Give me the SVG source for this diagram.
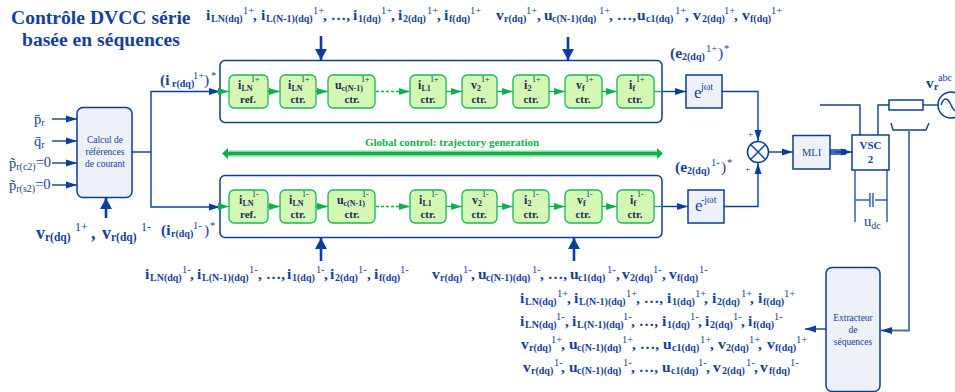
<svg xmlns="http://www.w3.org/2000/svg" width="955" height="392" viewBox="0 0 955 392">
<defs>
<marker id="a" markerWidth="12" markerHeight="8" refX="11" refY="4" orient="auto" markerUnits="userSpaceOnUse"><path d="M0 0.500L11 4L0 7.500z" fill="#0b3d9c"/></marker>
<marker id="g" markerWidth="12" markerHeight="8" refX="11" refY="4" orient="auto" markerUnits="userSpaceOnUse"><path d="M0 0.500L11 4L0 7.500z" fill="#0db14b"/></marker>
<marker id="t" markerWidth="12" markerHeight="14" refX="11" refY="6" orient="auto" markerUnits="userSpaceOnUse"><path d="M0 0L11 6L0 12z" fill="#0b3d9c"/></marker>
</defs>
<style>
text{font-family:"Liberation Serif",serif;fill:#1440a0}
.l{fill:none;stroke:#0b3d9c;stroke-width:1.4}
.la{fill:none;stroke:#0b3d9c;stroke-width:1.4;marker-end:url(#a)}
.th{fill:none;stroke:#0b3d9c;stroke-width:2.6;marker-end:url(#t)}
.gl{fill:none;stroke:#0db14b;stroke-width:1.3;marker-end:url(#g)}
.gd{fill:none;stroke:#0db14b;stroke-width:1.3;stroke-dasharray:3 2;marker-end:url(#g)}
.box{fill:#eef1f7;stroke:#0b3d9c;stroke-width:1.5}
.out{fill:#fff;stroke:#0b3d9c;stroke-width:1.5}
.gb{fill:#d4f7b4;stroke:#16b95a;stroke-width:1.3}
.n{font-size:15.500px;font-weight:bold}
.n .s{font-size:10px}
.n .u{font-size:10.500px;font-weight:normal}
.big{font-size:18px;font-weight:bold}
.big .s{font-size:11.500px}
.big .u{font-size:12px;font-weight:normal}
.c{font-size:9.500px;text-anchor:middle}
.title{font-size:19.600px;font-weight:bold}
.gt{font-size:11px;font-weight:bold;text-anchor:middle;fill:#222a55}
.gs{font-size:12px;font-weight:bold;fill:#222a55}
.gs .s{font-size:8px}
.gs .u{font-size:8px;font-weight:normal}
.nm{font-size:14.500px}
.nm .s{font-size:10px}
</style>
<g id="title">
<text class="title" x="11" y="24">Contrôle DVCC série</text>
<text class="title" x="22" y="46">basée en séquences</text>
</g>
<g id="connectors">
<path class="la" d="M52 119H77"/><path class="la" d="M52 141H77"/><path class="la" d="M52 163H77"/><path class="la" d="M52 185H77"/>
<path class="th" d="M106 218V198"/>
<path class="l" d="M132 152H151"/>
<path class="la" d="M151 152V91.500H220"/>
<path class="la" d="M151 152V207H220"/>
<path class="th" d="M321 36V60"/><path class="th" d="M568 37V60"/>
<path class="th" d="M321 261V238"/><path class="th" d="M574 261V238"/>
<path class="la" d="M662 91.500H686"/><path class="la" d="M662 206.500H688"/>
<path class="la" d="M722 91.500H758V141"/>
<path class="la" d="M724 206.500H758V163"/>
<path class="la" d="M769 152H793"/>
<path class="l" d="M830 150H846M830 152H846M830 154H846"/>
<path class="la" d="M835 152H852"/>
<path class="l" d="M820 105H860V135"/>
<path class="l" d="M878 135V105H889"/>
<path class="l" d="M923 105H938"/>
<path class="l" d="M891 123L893 130H926L929 123"/>
<path fill="none" stroke="#4a6fbe" stroke-width="1.8" d="M909 130V330.500H890"/>
<path class="la" d="M892 330.500H881"/>
<path class="la" d="M826 329H805"/>
<path fill="none" stroke="#3560b5" stroke-width="1.5" d="M855 170V222M887 170V222M855 200H870M875 200H887M870 193V207M873 193V207"/>
<path fill="none" stroke="#0db14b" stroke-width="4" d="M227 153.500H658"/>
<path fill="none" stroke="#7fd88f" stroke-width="1" d="M227 151H658M227 156H658"/>
<path d="M222 153.500L228 148V159zM663 153.500L657 148V159z" fill="#0db14b"/>
</g>
<g id="bloc-plus">
<rect class="out" x="220" y="60.500" width="442" height="62" rx="5"/>
<path class="gl" d="M220 91.500H229"/>
<path class="gl" d="M268 91.500H280"/><path class="gl" d="M316 91.500H328"/><path class="gd" d="M376 91.500H410"/><path class="gl" d="M446 91.500H462"/><path class="gl" d="M497 91.500H513"/><path class="gl" d="M549 91.500H565"/><path class="gl" d="M602 91.500H617"/>
<path d="M654 91.500H662" stroke="#0db14b" stroke-width="1.3"/>
<rect class="gb" x="229" y="75" width="39" height="33" rx="5"/>
<rect class="gb" x="280" y="75" width="36" height="33" rx="5"/>
<rect class="gb" x="328" y="75" width="47" height="33" rx="5"/>
<rect class="gb" x="410" y="75" width="36" height="33" rx="5"/>
<rect class="gb" x="462" y="75" width="35" height="33" rx="5"/>
<rect class="gb" x="513" y="75" width="36" height="33" rx="5"/>
<rect class="gb" x="565" y="75" width="37" height="33" rx="5"/>
<rect class="gb" x="617" y="75" width="37" height="33" rx="5"/>
<text class="gs" y="89"><tspan x="238">i</tspan><tspan class="s" x="241.500" y="91">LN</tspan><tspan class="u" x="251" y="82">1+</tspan></text>
<text class="gs" y="89"><tspan x="288">i</tspan><tspan class="s" x="291.500" y="91">LN</tspan><tspan class="u" x="301" y="82">1+</tspan></text>
<text class="gs" y="89"><tspan x="335">u</tspan><tspan class="s" x="341.500" y="91">c(N-1)</tspan><tspan class="u" x="361" y="82">1+</tspan></text>
<text class="gs" y="89"><tspan x="418">i</tspan><tspan class="s" x="421.500" y="91">L1</tspan><tspan class="u" x="430" y="82">1+</tspan></text>
<text class="gs" y="89"><tspan x="471">v</tspan><tspan class="s" x="477" y="91">2</tspan><tspan class="u" x="481" y="82">1+</tspan></text>
<text class="gs" y="89"><tspan x="524">i</tspan><tspan class="s" x="527.500" y="91">2</tspan><tspan class="u" x="532" y="82">1+</tspan></text>
<text class="gs" y="89"><tspan x="576">v</tspan><tspan class="s" x="582" y="91">f</tspan><tspan class="u" x="585" y="82">1+</tspan></text>
<text class="gs" y="89"><tspan x="629">i</tspan><tspan class="s" x="632.500" y="91">f</tspan><tspan class="u" x="636" y="82">1+</tspan></text>
<text class="gt" x="248" y="103">ref.</text><text class="gt" x="298" y="103">ctr.</text><text class="gt" x="352" y="103">ctr.</text><text class="gt" x="428" y="103">ctr.</text><text class="gt" x="479" y="103">ctr.</text><text class="gt" x="531" y="103">ctr.</text><text class="gt" x="583" y="103">ctr.</text><text class="gt" x="635" y="103">ctr.</text>
</g>
<g id="bloc-moins">
<rect class="out" x="220" y="175.500" width="442" height="62" rx="5"/>
<path class="gl" d="M220 206.500H229"/>
<path class="gl" d="M268 206.500H280"/><path class="gl" d="M316 206.500H328"/><path class="gd" d="M376 206.500H410"/><path class="gl" d="M446 206.500H462"/><path class="gl" d="M497 206.500H513"/><path class="gl" d="M549 206.500H565"/><path class="gl" d="M602 206.500H617"/>
<path d="M654 206.500H662" stroke="#0db14b" stroke-width="1.3"/>
<rect class="gb" x="229" y="190" width="39" height="33" rx="5"/>
<rect class="gb" x="280" y="190" width="36" height="33" rx="5"/>
<rect class="gb" x="328" y="190" width="47" height="33" rx="5"/>
<rect class="gb" x="410" y="190" width="36" height="33" rx="5"/>
<rect class="gb" x="462" y="190" width="35" height="33" rx="5"/>
<rect class="gb" x="513" y="190" width="36" height="33" rx="5"/>
<rect class="gb" x="565" y="190" width="37" height="33" rx="5"/>
<rect class="gb" x="617" y="190" width="37" height="33" rx="5"/>
<text class="gs" y="204"><tspan x="239">i</tspan><tspan class="s" x="242.500" y="206">LN</tspan><tspan class="u" x="252" y="197">1-</tspan></text>
<text class="gs" y="204"><tspan x="289">i</tspan><tspan class="s" x="292.500" y="206">LN</tspan><tspan class="u" x="302" y="197">1-</tspan></text>
<text class="gs" y="204"><tspan x="337">u</tspan><tspan class="s" x="343.500" y="206">c(N-1)</tspan><tspan class="u" x="362" y="197">1-</tspan></text>
<text class="gs" y="204"><tspan x="419">i</tspan><tspan class="s" x="422.500" y="206">L1</tspan><tspan class="u" x="431" y="197">1-</tspan></text>
<text class="gs" y="204"><tspan x="472">v</tspan><tspan class="s" x="478" y="206">2</tspan><tspan class="u" x="482" y="197">1-</tspan></text>
<text class="gs" y="204"><tspan x="524">i</tspan><tspan class="s" x="527.500" y="206">2</tspan><tspan class="u" x="532" y="197">1-</tspan></text>
<text class="gs" y="204"><tspan x="577">v</tspan><tspan class="s" x="583" y="206">f</tspan><tspan class="u" x="586" y="197">1-</tspan></text>
<text class="gs" y="204"><tspan x="630">i</tspan><tspan class="s" x="633.500" y="206">f</tspan><tspan class="u" x="637" y="197">1-</tspan></text>
<text class="gt" x="248" y="218">ref.</text><text class="gt" x="298" y="218">ctr.</text><text class="gt" x="352" y="218">ctr.</text><text class="gt" x="428" y="218">ctr.</text><text class="gt" x="479" y="218">ctr.</text><text class="gt" x="531" y="218">ctr.</text><text class="gt" x="583" y="218">ctr.</text><text class="gt" x="635" y="218">ctr.</text>
</g>
<g id="calcul">
<rect class="box" x="77" y="107.500" width="55" height="90" rx="6"/>
<text class="c" x="105" y="143">Calcul de</text><text class="c" x="105" y="155">références</text><text class="c" x="105" y="167">de courant</text>
</g>
<g id="extracteur">
<rect class="box" x="826" y="267.500" width="54" height="124" rx="6"/>
<text class="c" x="853" y="321">Extracteur</text><text class="c" x="853" y="333">de</text><text class="c" x="853" y="345">séquences</text>
</g>
<g id="ejwt-plus">
<rect class="box" x="686" y="75" width="36" height="33"/>
<text font-size="17" x="694" y="98">e</text><text font-size="10" x="701" y="90">jωt</text>
</g>
<g id="ejwt-moins">
<rect class="box" x="688" y="190" width="36" height="33"/>
<text font-size="17" x="695" y="211">e</text><text font-size="10" x="701" y="203">-jωt</text>
</g>
<g id="somme">
<circle class="out" cx="758" cy="152" r="10.500"/>
<path class="l" d="M750.600 144.600L765.400 159.400M765.400 144.600L750.600 159.400"/>
<text font-size="9" x="748" y="137">+</text><text font-size="9" x="745" y="172">+</text>
</g>
<g id="mli">
<rect class="box" x="793" y="135.500" width="37" height="33.500"/>
<text font-size="10.500" text-anchor="middle" x="811.500" y="156">MLI</text>
</g>
<g id="vsc">
<rect class="out" x="852" y="135" width="37" height="35"/>
<text font-size="11" font-weight="bold" text-anchor="middle" x="870.500" y="149">VSC</text>
<text font-size="11" font-weight="bold" text-anchor="middle" x="870.500" y="163">2</text>
</g>
<g id="resistance"><rect class="out" x="889" y="100" width="34" height="10"/></g>
<g id="source">
<circle class="out" cx="951" cy="105" r="13"/>
<path class="l" d="M941 105C944 96 948 98 951 105S958 114 961 105"/>
<text class="big"><tspan x="926" y="88" style="font-size:15px">v</tspan><tspan class="s" x="934" y="90" style="font-size:10px">r</tspan><tspan class="u" x="938" y="81" style="font-size:10px">abc</tspan></text>
</g>
<g id="udc"><text class="nm" x="864" y="226">u<tspan class="s" y="229">dc</tspan></text></g>
<g id="entrees">
<text class="nm" x="34" y="124">p̄<tspan class="s" y="126">r</tspan></text>
<text class="nm" x="34" y="146">q̄<tspan class="s" y="148">r</tspan></text>
<text class="nm" x="9" y="168">p̃<tspan class="s" y="170">r(c2)</tspan><tspan y="167">=0</tspan></text>
<text class="nm" x="9" y="190">p̃<tspan class="s" y="192">r(s2)</tspan><tspan y="189">=0</tspan></text>
</g>
<g id="g-global"><text x="452" y="146" font-size="11" font-weight="bold" text-anchor="middle" style="fill:#0db14b">Global control: trajectory generation</text></g>
<g id="labels">
<text class="n"><tspan x="206" y="20">i</tspan><tspan class="s" x="211" y="22">LN(dq)</tspan><tspan class="u" x="243" y="14">1+</tspan><tspan x="253" y="20">,</tspan><tspan x="261" y="20">i</tspan><tspan class="s" x="266" y="22">L(N-1)(dq)</tspan><tspan class="u" x="313" y="14">1+</tspan><tspan x="323" y="20">, …,</tspan><tspan x="353" y="20">i</tspan><tspan class="s" x="358" y="22">1(dq)</tspan><tspan class="u" x="381" y="14">1+</tspan><tspan x="391" y="20">,</tspan><tspan x="398" y="20">i</tspan><tspan class="s" x="403" y="22">2(dq)</tspan><tspan class="u" x="427" y="14">1+</tspan><tspan x="437" y="20">,</tspan><tspan x="444" y="20">i</tspan><tspan class="s" x="449" y="22">f(dq)</tspan><tspan class="u" x="470" y="14">1+</tspan></text>
<text class="n"><tspan x="496" y="20">v</tspan><tspan class="s" x="504" y="22">r(dq)</tspan><tspan class="u" x="526" y="14">1+</tspan><tspan x="537" y="20">,</tspan><tspan x="544" y="20">u</tspan><tspan class="s" x="552" y="22">c(N-1)(dq)</tspan><tspan class="u" x="599" y="14">1+</tspan><tspan x="609" y="20">, …,</tspan><tspan x="637" y="20">u</tspan><tspan class="s" x="646" y="22">c1(dq)</tspan><tspan class="u" x="675" y="14">1+</tspan><tspan x="685" y="20">,</tspan><tspan x="693" y="20">v</tspan><tspan class="s" x="702" y="22">2(dq)</tspan><tspan class="u" x="724" y="14">1+</tspan><tspan x="734" y="20">,</tspan><tspan x="742" y="20">v</tspan><tspan class="s" x="750" y="22">f(dq)</tspan><tspan class="u" x="771" y="14">1+</tspan></text>
<text class="n"><tspan x="145" y="279">i</tspan><tspan class="s" x="150" y="281">LN(dq)</tspan><tspan class="u" x="182" y="273">1-</tspan><tspan x="190" y="279">,</tspan><tspan x="197" y="279">i</tspan><tspan class="s" x="202" y="281">L(N-1)(dq)</tspan><tspan class="u" x="249" y="273">1-</tspan><tspan x="258" y="279">, …,</tspan><tspan x="287" y="279">i</tspan><tspan class="s" x="292" y="281">1(dq)</tspan><tspan class="u" x="316" y="273">1-</tspan><tspan x="324" y="279">,</tspan><tspan x="330" y="279">i</tspan><tspan class="s" x="335" y="281">2(dq)</tspan><tspan class="u" x="358" y="273">1-</tspan><tspan x="367" y="279">,</tspan><tspan x="374" y="279">i</tspan><tspan class="s" x="379" y="281">f(dq)</tspan><tspan class="u" x="400" y="273">1-</tspan></text>
<text class="n"><tspan x="432" y="279">v</tspan><tspan class="s" x="440" y="281">r(dq)</tspan><tspan class="u" x="463" y="273">1-</tspan><tspan x="471" y="279">,</tspan><tspan x="478" y="279">u</tspan><tspan class="s" x="486" y="281">c(N-1)(dq)</tspan><tspan class="u" x="532" y="273">1-</tspan><tspan x="540" y="279">, …,</tspan><tspan x="570" y="279">u</tspan><tspan class="s" x="578" y="281">c1(dq)</tspan><tspan class="u" x="607" y="273">1-</tspan><tspan x="616" y="279">,</tspan><tspan x="622" y="279">v</tspan><tspan class="s" x="630" y="281">2(dq)</tspan><tspan class="u" x="653" y="273">1-</tspan><tspan x="662" y="279">,</tspan><tspan x="669" y="279">v</tspan><tspan class="s" x="677" y="281">f(dq)</tspan><tspan class="u" x="699" y="273">1-</tspan></text>
<text class="n"><tspan x="520" y="303">i</tspan><tspan class="s" x="525" y="305">LN(dq)</tspan><tspan class="u" x="557" y="297">1+</tspan><tspan x="567" y="303">,</tspan><tspan x="574" y="303">i</tspan><tspan class="s" x="579" y="305">L(N-1)(dq)</tspan><tspan class="u" x="626" y="297">1+</tspan><tspan x="636" y="303">, …,</tspan><tspan x="667" y="303">i</tspan><tspan class="s" x="672" y="305">1(dq)</tspan><tspan class="u" x="695" y="297">1+</tspan><tspan x="704" y="303">,</tspan><tspan x="712" y="303">i</tspan><tspan class="s" x="717" y="305">2(dq)</tspan><tspan class="u" x="741" y="297">1+</tspan><tspan x="750" y="303">,</tspan><tspan x="758" y="303">i</tspan><tspan class="s" x="763" y="305">f(dq)</tspan><tspan class="u" x="784" y="297">1+</tspan></text>
<text class="n"><tspan x="520" y="326">i</tspan><tspan class="s" x="525" y="328">LN(dq)</tspan><tspan class="u" x="556" y="320">1-</tspan><tspan x="565" y="326">,</tspan><tspan x="572" y="326">i</tspan><tspan class="s" x="577" y="328">L(N-1)(dq)</tspan><tspan class="u" x="623" y="320">1-</tspan><tspan x="631" y="326">, …,</tspan><tspan x="662" y="326">i</tspan><tspan class="s" x="667" y="328">1(dq)</tspan><tspan class="u" x="690" y="320">1-</tspan><tspan x="698" y="326">,</tspan><tspan x="705" y="326">i</tspan><tspan class="s" x="710" y="328">2(dq)</tspan><tspan class="u" x="733" y="320">1-</tspan><tspan x="741" y="326">,</tspan><tspan x="748" y="326">i</tspan><tspan class="s" x="753" y="328">f(dq)</tspan><tspan class="u" x="774" y="320">1-</tspan></text>
<text class="n"><tspan x="521" y="349">v</tspan><tspan class="s" x="529" y="351">r(dq)</tspan><tspan class="u" x="551" y="343">1+</tspan><tspan x="561" y="349">,</tspan><tspan x="569" y="349">u</tspan><tspan class="s" x="577" y="351">c(N-1)(dq)</tspan><tspan class="u" x="622" y="343">1+</tspan><tspan x="632" y="349">, …,</tspan><tspan x="663" y="349">u</tspan><tspan class="s" x="672" y="351">c1(dq)</tspan><tspan class="u" x="700" y="343">1+</tspan><tspan x="710" y="349">,</tspan><tspan x="718" y="349">v</tspan><tspan class="s" x="726" y="351">2(dq)</tspan><tspan class="u" x="749" y="343">1+</tspan><tspan x="758" y="349">,</tspan><tspan x="767" y="349">v</tspan><tspan class="s" x="775" y="351">f(dq)</tspan><tspan class="u" x="796" y="343">1+</tspan></text>
<text class="n"><tspan x="523" y="372">v</tspan><tspan class="s" x="531" y="374">r(dq)</tspan><tspan class="u" x="554" y="366">1-</tspan><tspan x="561" y="372">,</tspan><tspan x="569" y="372">u</tspan><tspan class="s" x="577" y="374">c(N-1)(dq)</tspan><tspan class="u" x="623" y="366">1-</tspan><tspan x="631" y="372">, …,</tspan><tspan x="662" y="372">u</tspan><tspan class="s" x="671" y="374">c1(dq)</tspan><tspan class="u" x="698" y="366">1-</tspan><tspan x="706" y="372">,</tspan><tspan x="713" y="372">v</tspan><tspan class="s" x="722" y="374">2(dq)</tspan><tspan class="u" x="746" y="366">1-</tspan><tspan x="754" y="372">,</tspan><tspan x="760" y="372">v</tspan><tspan class="s" x="769" y="374">f(dq)</tspan><tspan class="u" x="790" y="366">1-</tspan></text>
<text class="n"><tspan x="160" y="85">(i</tspan><tspan class="s" x="172" y="87">r(dq)</tspan><tspan class="u" x="193" y="79">1+</tspan><tspan x="204" y="85" font-weight="normal">)</tspan><tspan class="u" x="211" y="79">*</tspan></text>
<text class="n"><tspan x="161" y="235">(i</tspan><tspan class="s" x="171" y="237">r(dq)</tspan><tspan class="u" x="193" y="229">1-</tspan><tspan x="204" y="235" font-weight="normal">)</tspan><tspan class="u" x="210" y="229">*</tspan></text>
<text class="n"><tspan x="670" y="58">(e</tspan><tspan class="s" x="682" y="60">2(dq)</tspan><tspan class="u" x="706" y="52">1+</tspan><tspan x="718" y="58" font-weight="normal">)</tspan><tspan class="u" x="724" y="52">*</tspan></text>
<text class="n"><tspan x="675" y="172">(e</tspan><tspan class="s" x="687" y="174">2(dq)</tspan><tspan class="u" x="711" y="166">1-</tspan><tspan x="721" y="172" font-weight="normal">)</tspan><tspan class="u" x="727" y="166">*</tspan></text>
<text class="big"><tspan x="36" y="239">v</tspan><tspan class="s" x="45" y="241">r(dq)</tspan><tspan class="u" x="75" y="231">1+</tspan><tspan x="91" y="239">,</tspan><tspan x="102" y="239">v</tspan><tspan class="s" x="111" y="241">r(dq)</tspan><tspan class="u" x="141" y="231">1-</tspan></text>
</g>
</svg>
